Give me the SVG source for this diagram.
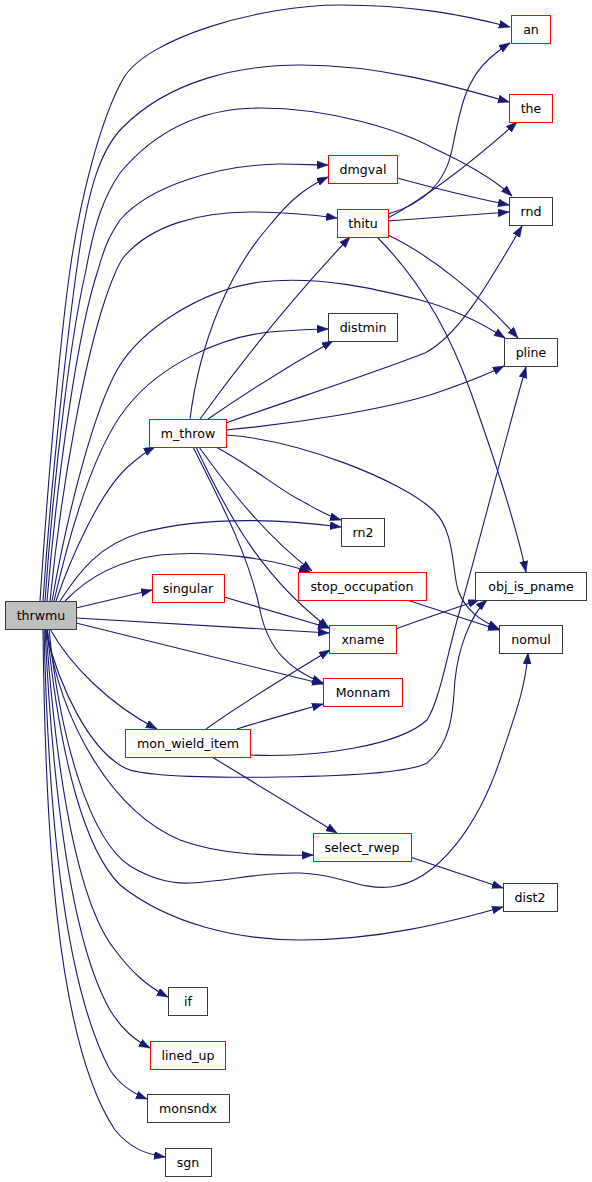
<svg xmlns="http://www.w3.org/2000/svg" width="592" height="1182" viewBox="0 0 592 1182">
<style>
.n rect{fill:#fff;stroke:#ff0000;stroke-width:1}
.n.b rect{stroke:#3a3a3a}
.n.root rect{fill:#bfbfbf;stroke:#3a3a3a}
.n text{font-family:"DejaVu Sans",sans-serif;font-size:12.6px;fill:#000;text-anchor:middle}
.e path{fill:none;stroke:#191970;stroke-width:1.1;marker-end:url(#ah)}
</style>
<defs>
<marker id="ah" markerUnits="userSpaceOnUse" markerWidth="12" markerHeight="9" refX="11" refY="4" orient="auto">
<polygon points="0,0 11,4 0,8" fill="#191970" stroke="#191970" stroke-width="0.5"/>
</marker>
</defs>
<rect width="592" height="1182" fill="#fff"/>
<g id="edges" class="e">
<path d="M40,601 C48,480 60,340 70,270 C80,200 100,120 123,79 C146,38 260,5 340,5 C410,5 460,14 510,27"/>
<path d="M43,601 C52,470 68,330 78,260 C88,190 100,150 123,127 C170,80 240,65 300,65 C380,65 450,85 509,102"/>
<path d="M45,601 C55,460 72,330 86,270 C95,220 105,195 120,173 C160,125 210,108 260,108 C330,108 400,130 433,148 C470,165 495,180 512,196"/>
<path d="M47,601 C58,470 78,330 98,270 C105,245 110,235 120,220 C150,185 220,165 280,164 C300,164 315,165 328,165"/>
<path d="M50,601 C62,480 85,360 105,300 C110,285 115,270 123,258 C150,225 200,212 250,212 C290,212 315,215 337,218"/>
<path d="M52,601 C70,500 95,410 117,370 C140,330 200,290 260,282 C320,275 380,290 420,300 C450,308 480,322 505,338"/>
<path d="M54,601 C75,510 100,440 127,407 C160,365 220,337 270,332 C295,330 310,329 328,329"/>
<path d="M56,601 C70,560 100,490 130,465 C138,458 145,452 155,447"/>
<path d="M60,601 C80,570 100,545 140,533 C200,517 270,518 341,527"/>
<path d="M65,601 C90,575 120,560 160,555 C210,550 270,558 310,572"/>
<path d="M76,608 L152,590"/>
<path d="M76,618 L329,633"/>
<path d="M76,623 L323,684"/>
<path d="M50,629 C70,665 110,705 157,729"/>
<path d="M45,629 C60,690 90,750 125,768 C140,776 200,778 280,777 C350,776 410,772 427,763 C455,740 453,700 455,680 C458,650 470,615 487,600"/>
<path d="M47,629 C60,720 110,810 180,840 C220,855 270,856 313,855"/>
<path d="M49,629 C60,740 90,840 130,866 C150,878 170,884 190,883 C230,881 260,872 300,873 C340,874 360,890 390,887 C440,882 480,820 500,760 C515,715 525,690 528,653"/>
<path d="M47,629 C60,760 85,850 120,885 C170,925 240,940 300,940 C380,940 450,922 503,907"/>
<path d="M46,629 C55,760 75,900 115,950 C130,970 145,985 168,997"/>
<path d="M45,629 C52,780 70,940 110,1010 C122,1030 135,1040 150,1048"/>
<path d="M44,629 C48,800 62,980 110,1070 C120,1085 132,1093 147,1099"/>
<path d="M43,629 C45,820 55,1040 115,1130 C130,1148 145,1154 165,1157"/>
<path d="M190,419 C200,340 230,270 270,225 C290,200 305,188 328,177"/>
<path d="M200,419 C250,350 300,290 350,237"/>
<path d="M208,419 C250,390 290,365 333,341"/>
<path d="M226,423 C290,400 360,378 425,353 C460,335 490,280 522,226"/>
<path d="M226,430 C300,423 380,410 430,395 C460,385 480,378 504,366"/>
<path d="M226,435 C300,440 400,480 433,510 C455,530 452,570 458,590 C465,610 480,620 499,629"/>
<path d="M216,447 C250,465 280,490 300,500 C315,508 325,515 341,520"/>
<path d="M199,447 C230,490 265,535 312,571"/>
<path d="M196,447 C230,520 265,580 329,628"/>
<path d="M193,447 C225,510 250,560 260,610 C268,650 290,670 323,683"/>
<path d="M388,214 C420,205 445,185 452,150 C460,110 465,80 490,58 C497,52 502,48 510,43"/>
<path d="M388,218 C430,195 480,155 517,122"/>
<path d="M388,221 C430,218 470,215 509,212"/>
<path d="M397,178 C430,187 470,197 509,205"/>
<path d="M388,235 C430,255 480,295 518,338"/>
<path d="M377,237 C410,270 445,320 470,390 C495,460 515,520 526,572"/>
<path d="M224,597 L329,628"/>
<path d="M407,600 L499,630"/>
<path d="M396,629 C420,620 450,610 479,600"/>
<path d="M206,729 C240,705 280,680 330,650"/>
<path d="M237,729 C265,720 295,712 323,704"/>
<path d="M250,755 C320,758 400,745 427,720 C440,700 448,650 460,610 C480,540 505,440 526,367"/>
<path d="M212,757 L337,833"/>
<path d="M410,857 L503,888"/>
</g>
<g id="thrwmu" class="n root"><rect x="5.5" y="601.5" width="71" height="28"/><text x="41" y="620">thrwmu</text></g>
<g id="an" class="n"><rect x="511.5" y="15.5" width="39" height="28"/><text x="531" y="34">an</text></g>
<g id="the" class="n"><rect x="509.5" y="94.5" width="43" height="28"/><text x="531" y="113">the</text></g>
<g id="dmgval" class="n"><rect x="328.5" y="155.5" width="69" height="28"/><text x="363" y="174">dmgval</text></g>
<g id="thitu" class="n"><rect x="337.5" y="209.5" width="51" height="28"/><text x="363" y="228">thitu</text></g>
<g id="rnd" class="n b"><rect x="509.5" y="197.5" width="43" height="28"/><text x="531" y="216">rnd</text></g>
<g id="distmin" class="n b"><rect x="328.5" y="313.5" width="69" height="28"/><text x="363" y="332">distmin</text></g>
<g id="pline" class="n b"><rect x="504.5" y="338.5" width="53" height="28"/><text x="531" y="357">pline</text></g>
<g id="m_throw" class="n"><rect x="149.5" y="419.5" width="77" height="28"/><text x="188" y="438">m_throw</text></g>
<g id="rn2" class="n b"><rect x="341.5" y="518.5" width="43" height="28"/><text x="363" y="537">rn2</text></g>
<g id="stop_occupation" class="n"><rect x="298.5" y="572.5" width="128" height="28"/><text x="362" y="591">stop_occupation</text></g>
<g id="obj_is_pname" class="n b"><rect x="475.5" y="572.5" width="111" height="28"/><text x="531" y="591">obj_is_pname</text></g>
<g id="singular" class="n"><rect x="152.5" y="574.5" width="72" height="28"/><text x="188" y="593">singular</text></g>
<g id="xname" class="n"><rect x="329.5" y="625.5" width="67" height="28"/><text x="363" y="644">xname</text></g>
<g id="nomul" class="n b"><rect x="499.5" y="625.5" width="63" height="28"/><text x="531" y="644">nomul</text></g>
<g id="Monnam" class="n"><rect x="323.5" y="678.5" width="79" height="28"/><text x="363" y="697">Monnam</text></g>
<g id="mon_wield_item" class="n"><rect x="125.5" y="729.5" width="125" height="28"/><text x="188" y="748">mon_wield_item</text></g>
<g id="select_rwep" class="n"><rect x="313.5" y="833.5" width="98" height="28"/><text x="362" y="852">select_rwep</text></g>
<g id="dist2" class="n b"><rect x="503.5" y="883.5" width="54" height="28"/><text x="530" y="902">dist2</text></g>
<g id="if" class="n b"><rect x="168.5" y="987.5" width="39" height="28"/><text x="188" y="1006">if</text></g>
<g id="lined_up" class="n"><rect x="150.5" y="1041.5" width="75" height="28"/><text x="188" y="1060">lined_up</text></g>
<g id="monsndx" class="n b"><rect x="147.5" y="1094.5" width="82" height="28"/><text x="188" y="1113">monsndx</text></g>
<g id="sgn" class="n b"><rect x="165.5" y="1148.5" width="46" height="28"/><text x="188" y="1167">sgn</text></g>
</svg>
